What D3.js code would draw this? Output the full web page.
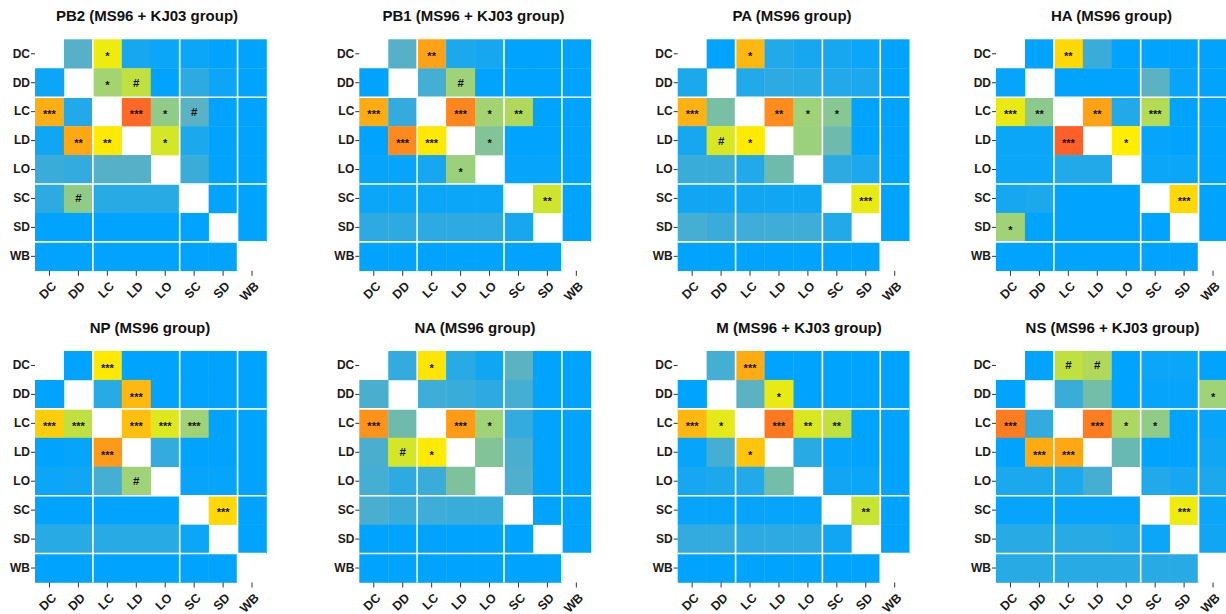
<!DOCTYPE html>
<html>
<head>
<meta charset="utf-8">
<script src="https://cdn.jsdelivr.net/npm/d3@7"></script>
<style>
  body { margin: 0; background: #fff; }
  svg text { font-family: "Liberation Sans", Arial, sans-serif; }
</style>
</head>
<body>
<svg id="chart" width="1226" height="614"></svg>
<script>
const categories = ['DC', 'DD', 'LC', 'LD', 'LO', 'SC', 'SD', 'WB'];
const titles = [
  'PB2 (MS96 + KJ03 group)', 'PB1 (MS96 + KJ03 group)', 'PA (MS96 group)', 'HA (MS96 group)',
  'NP (MS96 group)', 'NA (MS96 group)', 'M (MS96 + KJ03 group)', 'NS (MS96 + KJ03 group)'
];
// group separators drawn after these categories
const groupBreaks = ['DD', 'LO', 'SD'];

// cell values (0 = blue, 0.5 = yellow, 1 = red), rows = y, cols = x
const pb2Values = [
  [null, 0.15, 0.47, 0.04, 0.02, 0.02, 0, 0],
  [0.02, null, 0.31, 0.38, 0, 0.08, 0.02, 0],
  [0.70, 0.06, null, 0.92, 0.27, 0.16, 0, 0],
  [0.03, 0.72, 0.52, null, 0.42, 0.05, 0, 0],
  [0.10, 0.09, 0.15, 0.15, null, 0.10, 0, 0],
  [0.08, 0.27, 0.07, 0.07, 0.07, null, 0, 0],
  [0, 0, 0, 0, 0, 0, null, 0],
  [0, 0, 0, 0, 0, 0, 0, null]
];
const pb1Values = [
  [null, 0.15, 0.74, 0.05, 0.04, 0, 0, 0],
  [0, null, 0.12, 0.30, 0, 0, 0, 0],
  [0.71, 0.09, null, 0.83, 0.31, 0.34, 0, 0],
  [0, 0.82, 0.52, null, 0.24, 0, 0, 0],
  [0.01, 0.01, 0.04, 0.29, null, 0.01, 0.01, 0],
  [0.02, 0.02, 0.02, 0.02, 0.02, null, 0.41, 0],
  [0.08, 0.08, 0.08, 0.08, 0.08, 0.04, null, 0],
  [0, 0, 0, 0, 0, 0, 0, null]
];
const paValues = [
  [null, 0, 0.67, 0.06, 0.04, 0.04, 0.02, 0],
  [0.05, null, 0.06, 0.08, 0.07, 0.06, 0.05, 0],
  [0.69, 0.22, null, 0.81, 0.30, 0.25, 0, 0],
  [0.04, 0.43, 0.51, null, 0.29, 0.20, 0, 0],
  [0.10, 0.10, 0.06, 0.20, null, 0.08, 0.05, 0],
  [0.03, 0.03, 0.03, 0.03, 0.03, null, 0.46, 0],
  [0.12, 0.10, 0.11, 0.11, 0.11, 0.06, null, 0],
  [0, 0, 0, 0, 0, 0, 0, null]
];
const haValues = [
  [null, 0, 0.57, 0.10, 0, 0, 0, 0],
  [0.01, null, 0, 0, 0, 0.16, 0.01, 0],
  [0.46, 0.26, null, 0.74, 0.06, 0.35, 0, 0],
  [0.02, 0.02, 0.95, null, 0.50, 0.01, 0, 0],
  [0.02, 0.02, 0.06, 0.06, null, 0.02, 0.02, 0],
  [0.04, 0.05, 0, 0, 0, null, 0.57, 0],
  [0.30, 0, 0, 0, 0, 0, null, 0],
  [0, 0, 0, 0, 0, 0, 0, null]
];
const npValues = [
  [null, 0, 0.52, 0, 0, 0, 0, 0],
  [0, null, 0.07, 0.67, 0, 0, 0, 0],
  [0.60, 0.38, null, 0.65, 0.44, 0.30, 0, 0],
  [0, 0.01, 0.77, null, 0.09, 0, 0, 0],
  [0.02, 0.03, 0.12, 0.30, null, 0.01, 0.01, 0],
  [0, 0, 0, 0, 0, null, 0.57, 0],
  [0.07, 0.07, 0.07, 0.07, 0.07, 0.02, null, 0],
  [0, 0, 0, 0, 0, 0, 0, null]
];
const naValues = [
  [null, 0.09, 0.53, 0.07, 0.03, 0.16, 0, 0],
  [0.13, null, 0.11, 0.10, 0.08, 0.12, 0, 0],
  [0.79, 0.20, null, 0.76, 0.30, 0.09, 0, 0],
  [0.13, 0.42, 0.51, null, 0.24, 0.13, 0, 0],
  [0.12, 0.08, 0.10, 0.23, null, 0.14, 0, 0],
  [0.13, 0.10, 0.11, 0.10, 0.10, null, 0, 0],
  [0, 0, 0, 0, 0, 0, null, 0],
  [0, 0, 0, 0, 0, 0, 0, null]
];
const mValues = [
  [null, 0.12, 0.71, 0, 0, 0, 0, 0],
  [0, null, 0.16, 0.46, 0, 0, 0, 0],
  [0.67, 0.45, null, 0.87, 0.43, 0.38, 0, 0],
  [0.01, 0.12, 0.63, null, 0.07, 0.01, 0, 0],
  [0.04, 0.05, 0.06, 0.21, null, 0.03, 0.02, 0],
  [0.01, 0.01, 0.01, 0.01, 0.01, null, 0.40, 0],
  [0.09, 0.09, 0.08, 0.08, 0.08, 0.03, null, 0],
  [0, 0, 0, 0, 0, 0, 0, null]
];
const nsValues = [
  [null, 0, 0.38, 0.34, 0, 0.02, 0.02, 0],
  [0, null, 0.10, 0.21, 0, 0.01, 0.01, 0.30],
  [0.86, 0.09, null, 0.86, 0.33, 0.27, 0, 0.01],
  [0, 0.71, 0.72, null, 0.19, 0, 0, 0.03],
  [0.05, 0.05, 0.05, 0.12, null, 0.06, 0.04, 0.05],
  [0.01, 0.01, 0.01, 0.01, 0.01, null, 0.47, 0.02],
  [0.07, 0.07, 0.07, 0.07, 0.06, 0.02, null, 0.03],
  [0.07, 0.07, 0.07, 0.07, 0.07, 0.07, 0.07, null]
];

// significance marks
const E = ['', '', '', '', '', '', '', ''];
const pb2Labels = [
  ['', '', '*', '', '', '', '', ''],
  ['', '', '*', '#', '', '', '', ''],
  ['***', '', '', '***', '*', '#', '', ''],
  ['', '**', '**', '', '*', '', '', ''],
  E,
  ['', '#', '', '', '', '', '', ''],
  E, E
];
const pb1Labels = [
  ['', '', '**', '', '', '', '', ''],
  ['', '', '', '#', '', '', '', ''],
  ['***', '', '', '***', '*', '**', '', ''],
  ['', '***', '***', '', '*', '', '', ''],
  ['', '', '', '*', '', '', '', ''],
  ['', '', '', '', '', '', '**', ''],
  E, E
];
const paLabels = [
  ['', '', '*', '', '', '', '', ''],
  E,
  ['***', '', '', '**', '*', '*', '', ''],
  ['', '#', '*', '', '', '', '', ''],
  E,
  ['', '', '', '', '', '', '***', ''],
  E, E
];
const haLabels = [
  ['', '', '**', '', '', '', '', ''],
  E,
  ['***', '**', '', '**', '', '***', '', ''],
  ['', '', '***', '', '*', '', '', ''],
  E,
  ['', '', '', '', '', '', '***', ''],
  ['*', '', '', '', '', '', '', ''],
  E
];
const npLabels = [
  ['', '', '***', '', '', '', '', ''],
  ['', '', '', '***', '', '', '', ''],
  ['***', '***', '', '***', '***', '***', '', ''],
  ['', '', '***', '', '', '', '', ''],
  ['', '', '', '#', '', '', '', ''],
  ['', '', '', '', '', '', '***', ''],
  E, E
];
const naLabels = [
  ['', '', '*', '', '', '', '', ''],
  E,
  ['***', '', '', '***', '*', '', '', ''],
  ['', '#', '*', '', '', '', '', ''],
  E, E, E, E
];
const mLabels = [
  ['', '', '***', '', '', '', '', ''],
  ['', '', '', '*', '', '', '', ''],
  ['***', '*', '', '***', '**', '**', '', ''],
  ['', '', '*', '', '', '', '', ''],
  E,
  ['', '', '', '', '', '', '**', ''],
  E, E
];
const nsLabels = [
  ['', '', '#', '#', '', '', '', ''],
  ['', '', '', '', '', '', '', '*'],
  ['***', '', '', '***', '*', '*', '', ''],
  ['', '***', '***', '', '', '', '', ''],
  E,
  ['', '', '', '', '', '', '***', ''],
  E, E
];

const panels = [
  { values: pb2Values, labels: pb2Labels },
  { values: pb1Values, labels: pb1Labels },
  { values: paValues, labels: paLabels },
  { values: haValues, labels: haLabels },
  { values: npValues, labels: npLabels },
  { values: naValues, labels: naLabels },
  { values: mValues, labels: mLabels },
  { values: nsValues, labels: nsLabels }
];

const svg = d3.select('#chart');
const size = 231.5;
const lefts = [35, 359.3, 677.7, 996];
const tops = [39.3, 351];
const titleX = [147, 473.5, 792, 1111.5, 150, 475, 799, 1112.5];

// blue -> teal -> green -> yellow -> red
const color = d3.scaleLinear()
  .domain([0, 0.15, 0.3, 0.4, 0.5, 1])
  .range(['#00a4ff', '#55b0c8', '#a0d278', '#c8e432', '#ffee00', '#ff502d'])
  .interpolate(d3.interpolateRgb);

panels.forEach((p, i) => {
  const col = i % 4;
  const row = Math.floor(i / 4);
  const g = svg.append('g')
    .attr('transform', `translate(${lefts[col]},${tops[row]})`);

  const x = d3.scaleBand().domain(categories).range([0, size]);
  const y = d3.scaleBand().domain(categories).range([0, size]);

  const cells = [];
  p.values.forEach((r, ri) => r.forEach((v, ci) => {
    cells.push({ row: categories[ri], col: categories[ci], value: v, label: p.labels[ri][ci] });
  }));

  g.selectAll('rect.cell')
    .data(cells.filter(d => d.value !== null))
    .enter()
    .append('rect')
    .attr('class', 'cell')
    .attr('x', d => x(d.col))
    .attr('y', d => y(d.row))
    .attr('width', x.bandwidth() + 0.3)
    .attr('height', y.bandwidth() + 0.3)
    .attr('fill', d => color(d.value));

  // white separators between groups
  groupBreaks.forEach(b => {
    const pos = x(b) + x.bandwidth();
    g.append('line')
      .attr('x1', pos).attr('x2', pos)
      .attr('y1', 0).attr('y2', size)
      .attr('stroke', '#fff').attr('stroke-width', 1.6);
    g.append('line')
      .attr('y1', pos).attr('y2', pos)
      .attr('x1', 0).attr('x2', size)
      .attr('stroke', '#fff').attr('stroke-width', 1.6);
  });

  // significance marks
  g.selectAll('text.mark')
    .data(cells.filter(d => d.label))
    .enter()
    .append('text')
    .attr('class', 'mark')
    .attr('x', d => x(d.col) + x.bandwidth() / 2)
    .attr('y', d => y(d.row) + y.bandwidth() / 2 + (d.label === '#' ? 4 : 6.3))
    .attr('text-anchor', 'middle')
    .attr('font-size', d => d.label === '#' ? 11.5 : 11)
    .attr('font-weight', 'bold')
    .attr('fill', '#111')
    .text(d => d.label);

  // axes
  const yAxis = g.append('g').call(d3.axisLeft(y).tickSize(4).tickPadding(1));
  const xAxis = g.append('g')
    .attr('transform', `translate(0,${size})`)
    .call(d3.axisBottom(x).tickSize(5).tickPadding(2));
  [xAxis, yAxis].forEach(a => {
    a.select('.domain').remove();
    a.selectAll('.tick line').attr('stroke', '#333');
    a.selectAll('.tick text')
      .attr('fill', '#1a1a1a')
      .attr('font-size', 12)
      .attr('font-weight', 'bold')
      .attr('font-family', '"Liberation Sans", Arial, sans-serif');
  });
  xAxis.selectAll('.tick text')
    .attr('font-size', 12.5)
    .attr('text-anchor', 'end')
    .attr('dy', '0.35em')
    .attr('transform', 'translate(4.5,13) rotate(-45)')
    .attr('y', 0)
    .attr('x', 0);

  svg.append('text')
    .attr('x', titleX[i])
    .attr('y', tops[row] - 18.5)
    .attr('text-anchor', 'middle')
    .attr('font-size', 15)
    .attr('font-weight', 'bold')
    .attr('fill', '#111')
    .text(titles[i]);
});
</script>
</body>
</html>
